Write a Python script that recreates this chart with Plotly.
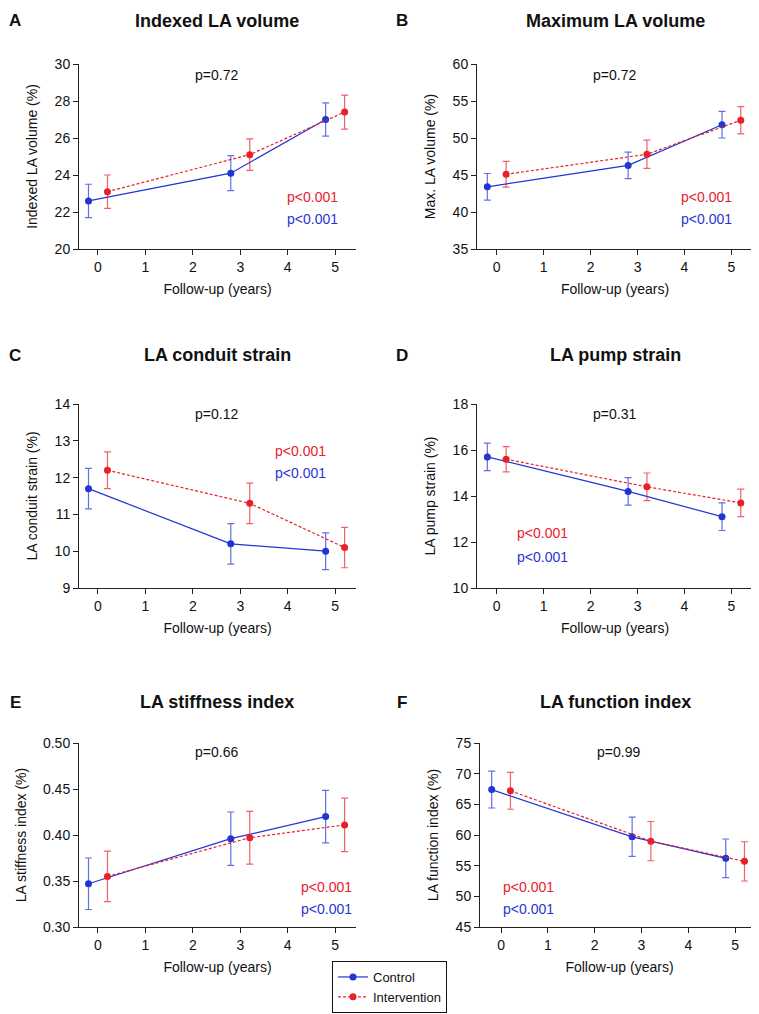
import plotly.graph_objects as go
from plotly.subplots import make_subplots

# Follow-up time points (offset so both groups are visible)
years_control = [-0.2, 2.8, 4.8]
years_intervention = [0.2, 3.2, 5.2]

panel_letters = ['A', 'B', 'C', 'D', 'E', 'F']
panel_titles = ['Indexed LA volume', 'Maximum LA volume', 'LA conduit strain',
                'LA pump strain', 'LA stiffness index', 'LA function index']
y_titles = ['Indexed LA volume (%)', 'Max. LA volume (%)', 'LA conduit strain (%)',
            'LA pump strain (%)', 'LA stiffness index (%)', 'LA function index (%)']
p_between = ['p=0.72', 'p=0.72', 'p=0.12', 'p=0.31', 'p=0.66', 'p=0.99']

# means and error bars
control_mean = [
    [22.6, 24.1, 27.0],
    [43.4, 46.3, 51.8],
    [11.7, 10.2, 10.0],
    [15.7, 14.2, 13.1],
    [0.347, 0.396, 0.420],
    [67.4, 59.7, 56.2],
]
control_err = [
    [0.9, 0.95, 0.9],
    [1.8, 1.8, 1.8],
    [0.55, 0.55, 0.5],
    [0.6, 0.6, 0.6],
    [0.028, 0.029, 0.0285],
    [3.0, 3.2, 3.15],
]
intervention_mean = [
    [23.1, 25.1, 27.4],
    [45.1, 47.8, 52.4],
    [12.2, 11.3, 10.1],
    [15.6, 14.4, 13.7],
    [0.355, 0.397, 0.411],
    [67.2, 59.0, 55.7],
]
intervention_err = [
    [0.9, 0.85, 0.92],
    [1.75, 1.9, 1.85],
    [0.5, 0.55, 0.55],
    [0.55, 0.6, 0.6],
    [0.0275, 0.0287, 0.029],
    [3.0, 3.2, 3.2],
]
y_ticks = [
    [20, 22, 24, 26, 28, 30],
    [35, 40, 45, 50, 55, 60],
    [9, 10, 11, 12, 13, 14],
    [10, 12, 14, 16, 18],
    [0.30, 0.35, 0.40, 0.45, 0.50],
    [45, 50, 55, 60, 65, 70, 75],
]
x_ticks = [0, 1, 2, 3, 4, 5]

# the page has an 8px body margin, so the figure is made 8px smaller
# and all page positions below are shifted by that amount
OFF = 8
W, H = 759 - OFF, 1014 - OFF
FONT = 'Arial, Liberation Sans, sans-serif'
BLUE = '#1f35d6'
RED = '#e8202a'
BLUE_ERR = 'rgba(31,53,214,0.7)'
RED_ERR = 'rgba(232,32,42,0.7)'


def px_x(v):
    return (v - OFF) / W


def px_y(v):
    return 1 - (v - OFF) / H


# panel boxes in page pixels: (left, right, top, bottom)
boxes = [(79, 356, 64, 249), (477, 753, 64, 249),
         (79, 356, 404, 588), (477, 753, 404, 588),
         (79, 356, 743, 927), (480, 759, 743, 927)]
x_ranges = [(-0.4, 5.44), (-0.42, 5.46), (-0.4, 5.44),
            (-0.42, 5.46), (-0.4, 5.44), (-0.45, 5.51)]

# p-value text placement (data coords): (x, y_red, y_blue, anchor)
p_group_pos = [
    (5.1, 22.8, 21.6, 'right'),
    (5.06, 42.0, 39.05, 'right'),
    (4.85, 12.72, 12.12, 'right'),
    (0.39, 12.39, 11.35, 'left'),
    (5.4, 0.3435, 0.3196, 'right'),
    (0.0, 51.5, 47.9, 'left'),
]
p_between_y = [29.4, 58.5, 13.73, 17.57, 0.490, 73.5]

fig = make_subplots(rows=3, cols=2)

for i in range(6):
    row, col = i // 2 + 1, i % 2 + 1
    fig.add_trace(go.Scatter(
        x=years_control, y=control_mean[i],
        mode='lines+markers',
        line=dict(color=BLUE, width=1.2),
        marker=dict(color=BLUE, size=7),
        error_y=dict(type='data', array=control_err[i], color=BLUE_ERR,
                     thickness=1.2, width=3.5),
        name='Control', showlegend=(i == 0),
    ), row=row, col=col)
    fig.add_trace(go.Scatter(
        x=years_intervention, y=intervention_mean[i],
        mode='lines+markers',
        line=dict(color=RED, width=1.2, dash='3px,2px'),
        marker=dict(color=RED, size=7),
        error_y=dict(type='data', array=intervention_err[i], color=RED_ERR,
                     thickness=1.2, width=3.5),
        name='Intervention', showlegend=(i == 0),
    ), row=row, col=col)

annotations = []
for i in range(6):
    l, r, t, b = boxes[i]
    xs = '' if i == 0 else str(i + 1)
    fig.layout['xaxis' + xs].update(
        domain=[px_x(l), min(px_x(r), 1)], range=list(x_ranges[i]), automargin=False,
        tickvals=x_ticks, ticks='outside', ticklen=5, tickcolor='#222',
        showline=True, linecolor='#222', linewidth=1,
        showgrid=False, zeroline=False,
        tickfont=dict(size=14, color='#111', family=FONT),
        title=dict(text='Follow-up (years)', standoff=10,
                   font=dict(size=14, color='#111', family=FONT)),
    )
    yt = y_ticks[i]
    fig.layout['yaxis' + xs].update(
        domain=[px_y(b), px_y(t)], range=[yt[0], yt[-1]], automargin=False,
        tickvals=yt, ticktext=[f'{v:.2f}' for v in yt] if i == 4 else None,
        ticks='outside', ticklen=5, tickcolor='#222',
        showline=True, linecolor='#222', linewidth=1,
        showgrid=False, zeroline=False,
        tickfont=dict(size=14, color='#111', family=FONT),
        title=dict(text=y_titles[i], standoff=13,
                   font=dict(size=14, color='#111', family=FONT)),
    )

    # panel letter and title (top row kept inside the figure area)
    letter_x = 15 if l < 300 else 402
    title_x = 217 if l < 300 else 615
    title_y = [21, 21, 355, 355, 702, 702][i]
    annotations.append(dict(text=f'<b>{panel_letters[i]}</b>', x=px_x(letter_x), y=px_y(title_y),
                            xref='paper', yref='paper', showarrow=False,
                            xanchor='center', yanchor='middle',
                            font=dict(size=17, color='#111', family=FONT)))
    annotations.append(dict(text=f'<b>{panel_titles[i]}</b>', x=px_x(title_x), y=px_y(title_y),
                            xref='paper', yref='paper', showarrow=False,
                            xanchor='center', yanchor='middle',
                            font=dict(size=18, color='#111', family=FONT)))

    # p-values
    xr, yr = 'x' + xs, 'y' + xs
    annotations.append(dict(text=p_between[i], x=2.5, y=p_between_y[i], xref=xr, yref=yr,
                            showarrow=False, xanchor='center', yanchor='middle',
                            font=dict(size=14, color='#111', family=FONT)))
    px, py_red, py_blue, anc = p_group_pos[i]
    annotations.append(dict(text='p<0.001', x=px, y=py_red, xref=xr, yref=yr,
                            showarrow=False, xanchor=anc, yanchor='middle',
                            font=dict(size=14, color=RED, family=FONT)))
    annotations.append(dict(text='p<0.001', x=px, y=py_blue, xref=xr, yref=yr,
                            showarrow=False, xanchor=anc, yanchor='middle',
                            font=dict(size=14, color=BLUE, family=FONT)))

fig.update_layout(
    width=W, height=H,
    margin=dict(l=0, r=0, t=0, b=0, autoexpand=False),
    plot_bgcolor='white', paper_bgcolor='white',
    annotations=annotations,
    showlegend=True,
    legend=dict(
        x=px_x(332), y=px_y(961), xanchor='left', yanchor='top',
        bgcolor='white', bordercolor='#111', borderwidth=1,
        font=dict(size=13, color='#111', family=FONT),
        itemwidth=30, tracegroupgap=0, entrywidth=125,
    ),
)

fig.write_html('out.html')
